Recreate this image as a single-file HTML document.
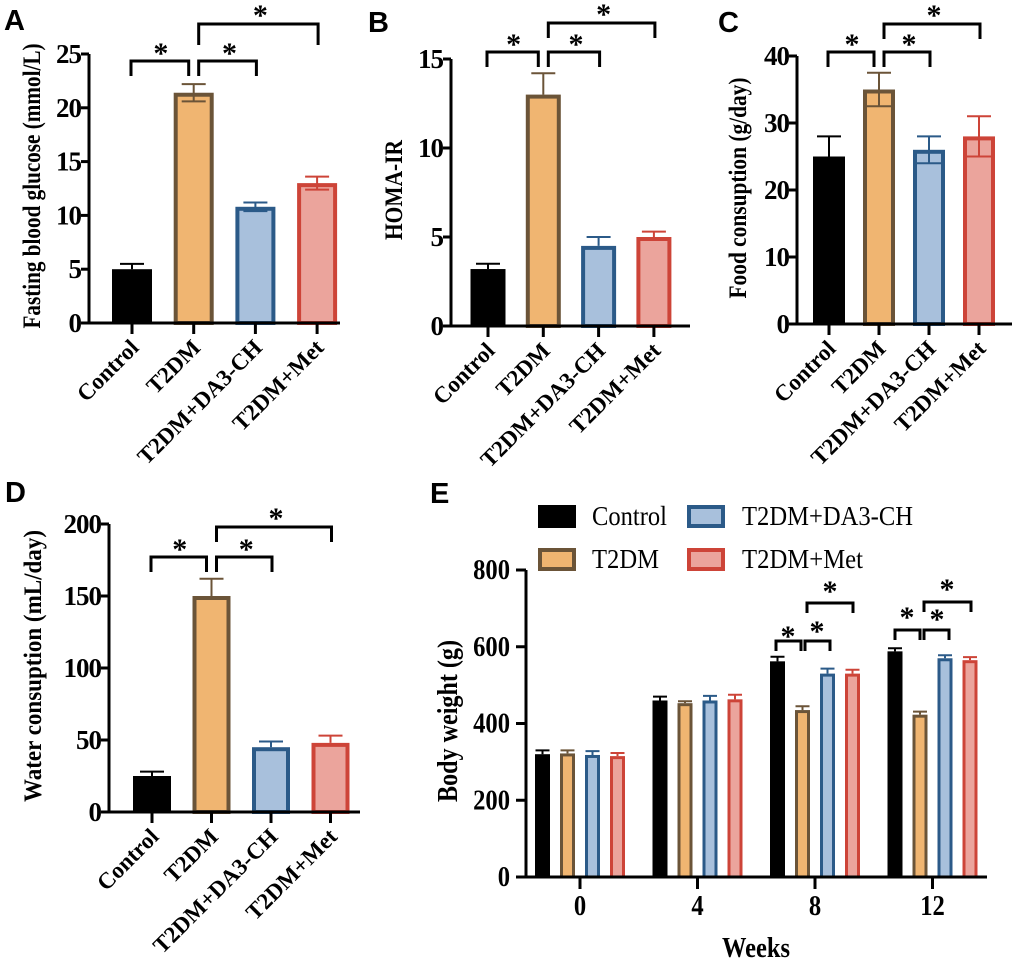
<!DOCTYPE html>
<html><head><meta charset="utf-8"><style>
html,body{margin:0;padding:0;background:#fff}
svg{display:block;font-family:"Liberation Serif",serif}
.pl{font-family:"Liberation Sans",sans-serif;font-weight:bold;font-size:29px}
</style></head><body>
<svg id="fig" width="1020" height="968" viewBox="0 0 1020 968"></svg>
<script>
const categories = ["Control","T2DM","T2DM+DA3-CH","T2DM+Met"];
const glucoseVals = [5.0,21.4,10.8,13.0];
const glucoseErr = [0.5,0.8,0.4,0.6];
const homaVals = [3.2,13.0,4.5,5.0];
const homaErr = [0.3,1.2,0.5,0.3];
const foodVals = [25,35,26,28];
const foodErr = [3,2.5,2,3];
const waterVals = [25,150,45,48];
const waterErr = [3,12,4,5];
const weeks = ["0","4","8","12"];
const bwControl = [320,460,562,588];
const bwT2DM = [322,453,435,423];
const bwDA3 = [318,460,530,570];
const bwMet = [315,463,530,565];
const bwErr = [[10,10,12,8],[8,5,10,8],[10,12,13,8],[8,12,10,8]];
const ticksA = [0,5,10,15,20,25];
const ticksB = [0,5,10,15];
const ticksC = [0,10,20,30,40];
const ticksD = [0,50,100,150,200];
const ticksE = [0,200,400,600,800];

const NS="http://www.w3.org/2000/svg";
const svg=document.getElementById('fig');
const fills=["#000000","#F0B571","#A8C0DC","#EBA49C"];
const strokes=["#000000","#6B5438","#2B5A88","#CD4438"];
function mk(tag,attrs,parent){const e=document.createElementNS(NS,tag);for(const k in attrs)e.setAttribute(k,attrs[k]);(parent||svg).appendChild(e);return e;}
function txt(s,attrs,parent){const e=mk('text',attrs,parent);e.textContent=s;return e;}

function bracket(g,x1,x2,y,drop1,drop2){
  const p=mk('path',{d:`M${x1} ${y+drop1} V${y} H${x2} V${y+drop2}`,fill:'none',stroke:'#000','stroke-width':3},g);
  
  
}
function star(g,x,y,fs){
  const t=txt('*',{x:x,y:y,'text-anchor':'middle','font-size':fs||30,'font-weight':'bold'},g);
  
  
}

function panel(o){
  const g=mk('g',{});
  
  
  const y=v=>o.y0-(v/o.max)*(o.y0-o.yTop);
  const x=i=>o.x0+i*o.dx;
  o.vals.forEach((v,i)=>{
    const cx=x(i),w=o.bw;
    const sw=i==0?0:4;
    const r=mk('rect',{x:cx-w/2+sw/2,y:y(v)+sw/2,width:w-sw,height:o.y0-y(v)-sw/2,fill:fills[i],stroke:strokes[i],'stroke-width':sw},g);
    
    
    const e=o.err[i];
    const two=o.twoSided&&o.twoSided[i];
    const eb=mk('path',{d:`M${cx} ${two?y(v-e):y(v)} V${y(v+e)} M${cx-12} ${y(v+e)} H${cx+12}`+(two?` M${cx-12} ${y(v-e)} H${cx+12}`:''),stroke:strokes[i],'stroke-width':2,fill:'none'},g);
    
    
  });
  const ax=mk('path',{d:`M${o.ax} ${o.yTop} V${o.y0} M${o.ax-8} ${o.y0} H${o.axEnd}`,stroke:'#000','stroke-width':3,fill:'none'},g);
  
  
  o.ticks.forEach(t=>{
    mk('line',{x1:o.ax-8,x2:o.ax,y1:y(t),y2:y(t),stroke:'#000','stroke-width':3},g);
    const l=txt(String(t),{x:o.ax-8,y:y(t)+9,'text-anchor':'end','font-size':27,'font-weight':'bold','letter-spacing':'-1'},g);
    
    
  });
  categories.forEach((c,i)=>{
    mk('line',{x1:x(i),x2:x(i),y1:o.y0,y2:o.y0+11,stroke:'#000','stroke-width':3},g);
    const l=txt(c,{x:x(i)+8,y:o.y0+26,'text-anchor':'end','font-size':23,'font-weight':'bold',transform:`rotate(-45 ${x(i)+8} ${o.y0+26})`},g);
    
    
  });
  const t=txt(o.title,{x:o.titleX,y:o.titleY,'text-anchor':'middle','font-size':25,'font-weight':'bold',textLength:o.titleLen,lengthAdjust:'spacingAndGlyphs',transform:`rotate(-90 ${o.titleX} ${o.titleY})`},g);
  
  
  const L=txt(o.letter,{x:o.lx,y:o.ly,'class':'pl'},g);
  
  
  const b=o.br;
  bracket(g,x(0)-1,x(1)-5,b.y1,b.d1,b.d1);
  bracket(g,x(1)+5,x(2)+1,b.y1,b.d1,b.d1);
  bracket(g,x(1)+5,x(3)+1,b.y2,b.d2,b.d2);
  star(g,(x(0)+x(1))/2-2,b.y1+2);
  star(g,(x(1)+x(2))/2+5,b.y1+2);
  star(g,(x(1)+x(3))/2+5,b.y2+1);
}

panel({name:'panel-a-fasting-glucose',letter:'A',lx:4,ly:30,vals:glucoseVals,err:glucoseErr,twoSided:[0,1,1,1],max:25,ticks:ticksA,
  y0:323,yTop:54,x0:132,dx:61.7,bw:40,ax:89,axEnd:340,title:'Fasting blood glucose (mmol/L)',titleX:40,titleY:186,titleLen:285,
  br:{y1:61,d1:15,y2:24,d2:21}});
panel({name:'panel-b-homa-ir',letter:'B',lx:368,ly:32,vals:homaVals,err:homaErr,max:15,ticks:ticksB,
  y0:326,yTop:59,x0:488,dx:55.3,bw:35,ax:451,axEnd:690,title:'HOMA-IR',titleX:402,titleY:190,titleLen:100,
  br:{y1:52,d1:15,y2:23,d2:15}});
panel({name:'panel-c-food-consumption',letter:'C',lx:718,ly:32,vals:foodVals,err:foodErr,twoSided:[0,1,1,1],max:40,ticks:ticksC,
  y0:324,yTop:56,x0:829,dx:50,bw:32,ax:797,axEnd:1012,title:'Food consuption (g/day)',titleX:746,titleY:188,titleLen:221,
  br:{y1:52,d1:15,y2:24,d2:15}});
panel({name:'panel-d-water-consumption',letter:'D',lx:5,ly:502,vals:waterVals,err:waterErr,max:200,ticks:ticksD,
  y0:812,yTop:524,x0:152,dx:59.5,bw:38,ax:109,axEnd:360,title:'Water consuption (mL/day)',titleX:41,titleY:666,titleLen:272,
  br:{y1:557,d1:15,y2:527,d2:15}});

(function(){
  const g=mk('g',{});
  
  
  const y0=877,yTop=570,max=800,ax=526;
  const y=v=>y0-(v/max)*(y0-yTop);
  const gx=i=>580+i*117.5;
  const offs=[-37.5,-12.5,12.5,37.5];
  const series=[bwControl,bwT2DM,bwDA3,bwMet];
  series.forEach((s,si)=>{
    s.forEach((v,i)=>{
      const cx=gx(i)+offs[si],w=15,sw=si==0?0:3;
      const r=mk('rect',{x:cx-w/2+sw/2,y:y(v)+sw/2,width:w-sw,height:y0-y(v)-sw/2,fill:fills[si],stroke:strokes[si],'stroke-width':sw},g);
      
      
      const e=bwErr[si][i];
      const eb=mk('path',{d:`M${cx} ${y(v)} V${y(v+e)} M${cx-7} ${y(v+e)} H${cx+7}`,stroke:strokes[si],'stroke-width':2,fill:'none'},g);
      
      
    });
  });
  const a=mk('path',{d:`M${ax} ${yTop} V${y0} M${ax-10} ${y0} H987`,stroke:'#000','stroke-width':3,fill:'none'},g);
  
  
  ticksE.forEach(t=>{
    mk('line',{x1:ax-10,x2:ax,y1:y(t),y2:y(t),stroke:'#000','stroke-width':3},g);
    const s=String(t);
    const l=txt(s,{x:ax-16,y:y(t)+9,'text-anchor':'end','font-size':28,'font-weight':'bold',textLength:s.length*12.3,lengthAdjust:'spacingAndGlyphs'},g);
    
    
  });
  weeks.forEach((w,i)=>{
    mk('line',{x1:gx(i),x2:gx(i),y1:y0,y2:y0+12,stroke:'#000','stroke-width':3},g);
    const l=txt(w,{x:gx(i),y:y0+38,'text-anchor':'middle','font-size':28,'font-weight':'bold',textLength:w.length*12.3,lengthAdjust:'spacingAndGlyphs'},g);
    
    
  });
  const xt=txt('Weeks',{x:756,y:957,'text-anchor':'middle','font-size':28,'font-weight':'bold',textLength:68,lengthAdjust:'spacingAndGlyphs'},g);
  
  
  const yt=txt('Body weight (g)',{x:457,y:721,'text-anchor':'middle','font-size':28,'font-weight':'bold',textLength:162,lengthAdjust:'spacingAndGlyphs',transform:'rotate(-90 457 721)'},g);
  
  
  const L=txt('E',{x:430,y:503,'class':'pl'},g);
  
  
  const leg=[[538,505,0,592,75,525],[687,505,2,742,171,525],[538,548,1,592,67,568],[687,548,3,742,121,568]];
  leg.forEach(([lx,ly,si,tx,tl,by])=>{
    const gg=mk('g',{},g);
    
    
    const sw=si==0?0:4;
    mk('rect',{x:lx+sw/2,y:ly+sw/2,width:38-sw,height:23-sw,fill:fills[si],stroke:strokes[si],'stroke-width':sw},gg);
    txt(categories[si],{x:tx,y:by,'font-size':27,textLength:tl,lengthAdjust:'spacingAndGlyphs'},gg);
  });
  bracket(g,776,801,641,10,10);
  bracket(g,805,830,641,10,10);
  bracket(g,807,853,603,10,10);
  star(g,788,646);star(g,817,641);star(g,830,601);
  bracket(g,895,920,630,10,10);
  bracket(g,924,949,630,10,10);
  bracket(g,924,971,602,10,10);
  star(g,907,627);star(g,937,629);star(g,947,599);
})();
</script>
</body></html>
